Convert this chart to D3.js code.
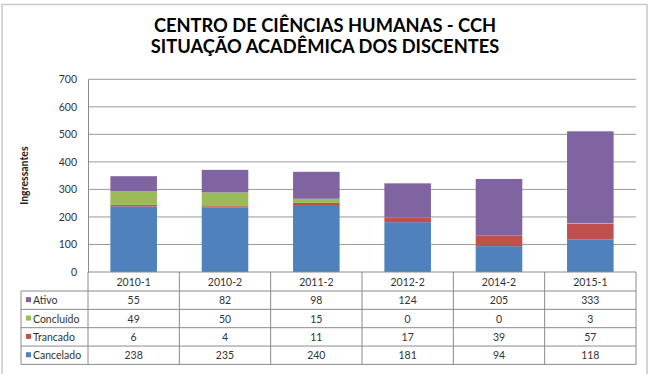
<!DOCTYPE html>
<html>
<head>
<meta charset="utf-8">
<script src="https://cdn.jsdelivr.net/npm/d3@7"></script>
<style>
  html, body { margin: 0; padding: 0; background: #fff; }
  svg { display: block; font-family: Lato, "Liberation Sans", sans-serif; }
</style>
</head>
<body>
<svg id="chart" width="650" height="374"></svg>
<script>
const titleLines = ["CENTRO DE CIÊNCIAS HUMANAS - CCH", "SITUAÇÃO ACADÊMICA DOS DISCENTES"];
const yAxisLabel = "Ingressantes";
const categories = ["2010-1", "2010-2", "2011-2", "2012-2", "2014-2", "2015-1"];
const seriesNames = ["Cancelado", "Trancado", "Concluído", "Ativo"];
const cancelado = [238, 235, 240, 181, 94, 118];
const trancado = [6, 4, 11, 17, 39, 57];
const concluido = [49, 50, 15, 0, 0, 3];
const ativo = [55, 82, 98, 124, 205, 333];
const yTicks = [0, 100, 200, 300, 400, 500, 600, 700];
const colors = { "Cancelado": "#4F81BD", "Trancado": "#C0504D", "Concluído": "#9BBB59", "Ativo": "#8064A2" };
const tableRows = ["Ativo", "Concluído", "Trancado", "Cancelado"];

const valuesBySeries = { "Cancelado": cancelado, "Trancado": trancado, "Concluído": concluido, "Ativo": ativo };
const rows = categories.map((c, i) => {
  const r = { cat: c };
  seriesNames.forEach(s => r[s] = valuesBySeries[s][i]);
  return r;
});

const svg = d3.select("#chart");
const plotLeft = 88, plotRight = 636, plotTop = 79.3, plotBottom = 272;
const tableLeft = 21, headerH = 19, rowH = 18.35;

// Outer frame
svg.append("path")
  .attr("d", `M2,374 L2,4.5 L647,4.5 L647,374`)
  .attr("fill", "none").attr("stroke", "#c8c8c8").attr("stroke-width", 1.5);

// Title
const title = svg.append("g");
titleLines.forEach((t, i) => {
  title.append("text")
    .attr("x", 325).attr("y", 32 + i * 21)
    .attr("text-anchor", "middle")
    .attr("font-weight", "bold").attr("font-size", 18.3)
    .attr("fill", "#000")
    .text(t);
});

const x = d3.scaleBand().domain(categories).range([plotLeft, plotRight]).padding(0);
const y = d3.scaleLinear().domain([0, 700]).range([plotBottom, plotTop]);

// Gridlines
svg.append("g").selectAll("line").data(yTicks.filter(v => v > 0)).join("line")
  .attr("x1", plotLeft).attr("x2", plotRight)
  .attr("y1", d => y(d)).attr("y2", d => y(d))
  .attr("stroke", "#9a9a9a").attr("stroke-width", 1);

// Y axis
const yAxis = d3.axisLeft(y).tickValues(yTicks).tickSize(0).tickPadding(11);
const yg = svg.append("g").attr("transform", `translate(${plotLeft},0)`).call(yAxis);
yg.select(".domain").attr("stroke", "#8a8a8a");
yg.selectAll("text").attr("font-size", 10.5).attr("fill", "#333").attr("font-family", "Lato, 'Liberation Sans', sans-serif");

// Y label
svg.append("text")
  .attr("transform", `translate(28,${(plotTop + plotBottom) / 2}) rotate(-90)`)
  .attr("text-anchor", "middle")
  .attr("font-size", 10.5).attr("font-weight", "bold").attr("fill", "#222")
  .text(yAxisLabel);

// Bars
const stack = d3.stack().keys(seriesNames)(rows);
const barW = x.bandwidth() * 0.51;
svg.append("g").selectAll("g").data(stack).join("g")
  .attr("fill", d => colors[d.key])
  .selectAll("rect").data(d => d).join("rect")
  .attr("x", d => x(d.data.cat) + (x.bandwidth() - barW) / 2)
  .attr("width", barW)
  .attr("y", d => y(d[1]))
  .attr("height", d => y(d[0]) - y(d[1]));

// Table
const tg = svg.append("g");
const tableBottom = plotBottom + headerH + rowH * tableRows.length;
const lineColor = "#8a8a8a";
tg.append("line").attr("x1", plotLeft).attr("x2", plotRight).attr("y1", plotBottom).attr("y2", plotBottom)
  .attr("stroke", lineColor);
d3.range(tableRows.length + 1).forEach(i => {
  const yy = plotBottom + headerH + rowH * i;
  tg.append("line").attr("x1", tableLeft).attr("x2", plotRight).attr("y1", yy).attr("y2", yy)
    .attr("stroke", lineColor);
});
const bounds = categories.map(c => x(c)).concat([plotRight]);
bounds.forEach(bx => {
  tg.append("line").attr("x1", bx).attr("x2", bx).attr("y1", plotBottom).attr("y2", tableBottom)
    .attr("stroke", lineColor);
});
tg.append("line").attr("x1", tableLeft).attr("x2", tableLeft).attr("y1", plotBottom + headerH).attr("y2", tableBottom)
  .attr("stroke", lineColor);

tg.selectAll("text.cat").data(categories).join("text").attr("class", "cat")
  .attr("x", d => x(d) + x.bandwidth() / 2)
  .attr("y", plotBottom + headerH / 2 + 4)
  .attr("text-anchor", "middle").attr("font-size", 10.5).attr("fill", "#333")
  .text(d => d);

tableRows.forEach((s, i) => {
  const cy = plotBottom + headerH + rowH * i + rowH / 2;
  tg.append("rect").attr("x", 26).attr("y", cy - 3).attr("width", 5).attr("height", 5).attr("fill", colors[s]);
  tg.append("text").attr("x", 33).attr("y", cy + 4).attr("font-size", 10.5).attr("fill", "#333").text(s);
  tg.selectAll(null).data(valuesBySeries[s]).join("text")
    .attr("x", (d, j) => x(categories[j]) + x.bandwidth() / 2)
    .attr("y", cy + 4)
    .attr("text-anchor", "middle").attr("font-size", 10.5).attr("fill", "#333")
    .text(d => d);
});
</script>
</body>
</html>
